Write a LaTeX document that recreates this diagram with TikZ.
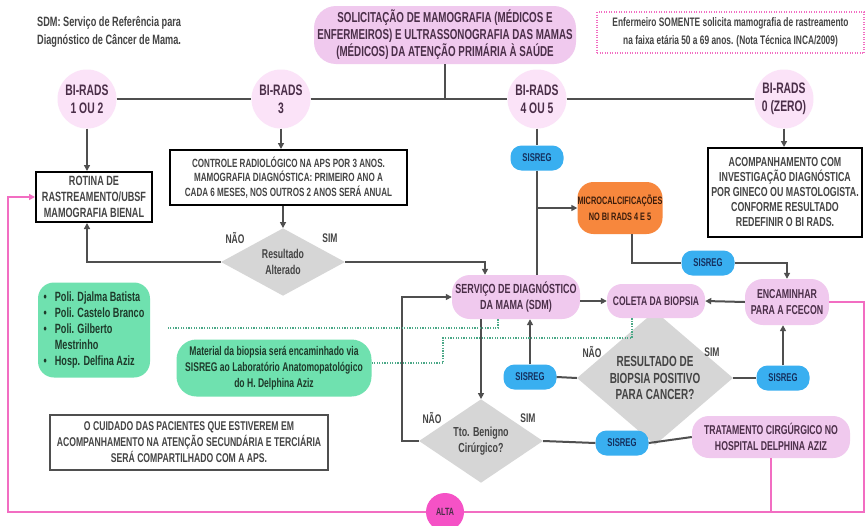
\documentclass[tikz,border=0pt]{standalone}
\usepackage{fontspec}
\setmainfont{Liberation Sans}[FakeStretch=0.68, UprightFont={* Bold}, BoldFont={* Bold}]
\usetikzlibrary{arrows.meta,shapes.geometric}
\definecolor{pinkf}{HTML}{F0C9EE}
\definecolor{circf}{HTML}{FBE3F8}
\definecolor{ptext}{HTML}{4A2E48}
\definecolor{bluef}{HTML}{39AFF0}
\definecolor{btext}{HTML}{15305E}
\definecolor{orangef}{HTML}{F7873D}
\definecolor{otext}{HTML}{3B1D0C}
\definecolor{greenf}{HTML}{6FE1AF}
\definecolor{gtext}{HTML}{1E3A2A}
\definecolor{grayf}{HTML}{D6D6D6}
\definecolor{graytext}{HTML}{444444}
\definecolor{linec}{HTML}{4F4F4F}
\definecolor{pinkline}{HTML}{F26DC2}
\definecolor{altaf}{HTML}{F552C6}
\definecolor{dotc}{HTML}{4BA887}
\newcommand\myfs[2]{\fontsize{#1}{#2}\selectfont}
\tikzset{
  txt/.style={align=center, inner sep=0pt, font=\myfs{11}{15.5}},
  pill/.style={txt, fill=pinkf, text=ptext},
  circ/.style={circle, fill=circf, minimum size=59pt, txt, text=ptext, font=\myfs{15.2}{18}},
  sis/.style={txt, fill=bluef, text=btext, rounded corners=11pt, minimum width=53pt, minimum height=25pt, font=\myfs{11.3}{12}},
  boxx/.style={txt, draw=black, line width=2pt, fill=white, text=graytext},
  dia/.style={diamond, fill=grayf, txt, text=graytext},
  con/.style={draw=linec, line width=2pt, -{Triangle[length=6pt,width=6pt]}},
  lin/.style={draw=linec, line width=2pt},
  pk/.style={draw=pinkline, line width=2.5pt},
  dots/.style={draw=dotc, line width=1.6pt, dash pattern=on 1.3pt off 1.3pt},
  lab/.style={font=\myfs{12.5}{13}, text=graytext, inner sep=0pt}
}
\begin{document}
\begin{tikzpicture}[x=1pt,y=-1pt]
\useasboundingbox[fill=white] (0,0) rectangle (867,525);

% notes
\node[anchor=west, align=left, font=\myfs{13.5}{18}, text=graytext, inner sep=0pt] (sdmn) at (37,32) {SDM: Serviço de Referência para\\Diagnóstico de Câncer de Mama.};
\node[txt, draw=pinkline, line width=1.2pt, dash pattern=on 1pt off 1.5pt, minimum width=267pt, minimum height=41pt, font=\myfs{12.3}{18}, text=graytext] (enf) at (730.5,32.5) {Enfermeiro SOMENTE solicita mamografia de rastreamento\\na faixa etária 50 a 69 anos. (Nota Técnica INCA/2009)};

% top
\node[pill, rounded corners=22pt, minimum width=262pt, minimum height=58pt, font=\myfs{14.4}{17}] (top) at (445,35) {SOLICITAÇÃO DE MAMOGRAFIA (MÉDICOS E\\ENFERMEIROS) E ULTRASSONOGRAFIA DAS MAMAS\\(MÉDICOS) DA ATENÇÃO PRIMÁRIA À SAÚDE};

% BI-RADS circles
\node[circ] (b12) at (87,99) {BI-RADS\\1 OU 2};
\node[circ] (b3) at (281,99) {BI-RADS\\3};
\node[circ] (b45) at (537,99) {BI-RADS\\4 OU 5};
\node[circ] (b0) at (784,99) {BI-RADS\\0 (ZERO)};

% boxes
\node[boxx, minimum width=116pt, minimum height=50pt, font=\myfs{13.4}{16}] (rot) at (94,197) {ROTINA DE\\RASTREAMENTO/UBSF\\MAMOGRAFIA BIENAL};
\node[boxx, minimum width=237pt, minimum height=55pt, font=\myfs{11.9}{14.5}] (ctl) at (288.5,177.5) {CONTROLE RADIOLÓGICO NA APS POR 3 ANOS.\\MAMOGRAFIA DIAGNÓSTICA: PRIMEIRO ANO A\\CADA 6 MESES, NOS OUTROS 2 ANOS SERÁ ANUAL};
\node[boxx, minimum width=154pt, minimum height=89pt, font=\myfs{13}{15}] (acomp) at (785,192.5) {ACOMPANHAMENTO COM\\INVESTIGAÇÃO DIAGNÓSTICA\\POR GINECO OU MASTOLOGISTA.\\CONFORME RESULTADO\\REDEFINIR O BI RADS.};

% diamonds
\node[dia, minimum width=124pt, minimum height=66pt, font=\myfs{12.8}{16}] (res) at (283,262) {Resultado\\Alterado};
\node[dia, minimum width=156pt, minimum height=90pt, font=\myfs{14.6}{16.5}] (res2) at (655,378) {RESULTADO DE\\BIOPSIA POSITIVO\\PARA CANCER?};
\node[dia, minimum width=124pt, minimum height=66pt, font=\myfs{13.1}{16}] (tto) at (481,441) {Tto. Benigno\\Cirúrgico?};

% pills
\node[sis] (s1) at (537,158) {SISREG};
\node[txt, fill=orangef, text=otext, rounded corners=16pt, minimum width=85pt, minimum height=52pt, font=\myfs{10.8}{16}] (mic) at (620,208) {MICROCALCIFICAÇÕES\\NO BI RADS 4 E 5};
\node[sis] (s2) at (708,263) {SISREG};
\node[pill, rounded corners=18pt, minimum width=84pt, minimum height=46pt, font=\myfs{12.9}{16}] (enc) at (787,302) {ENCAMINHAR\\PARA A FCECON};
\node[pill, rounded corners=15pt, minimum width=98pt, minimum height=34pt, font=\myfs{12.5}{16}] (col) at (656,301) {COLETA DA BIOPSIA};
\node[pill, rounded corners=18pt, minimum width=128pt, minimum height=44pt, font=\myfs{13.2}{16}] (sdm) at (516,297) {SERVIÇO DE DIAGNÓSTICO\\DA MAMA (SDM)};
\node[sis] (s3) at (530,377) {SISREG};
\node[sis] (s4) at (783,378) {SISREG};
\node[sis] (s5) at (622,443) {SISREG};
\node[pill, rounded corners=17pt, minimum width=158pt, minimum height=42pt, font=\myfs{12.8}{16}] (trat) at (771,437) {TRATAMENTO CIRGÚRGICO NO\\HOSPITAL DELPHINA AZIZ};
\node[circle, fill=altaf, text=ptext, minimum size=38pt, inner sep=0pt, font=\myfs{10.5}{12}] (alta) at (445,512) {ALTA};

% green boxes
\node[txt, fill=greenf, text=gtext, rounded corners=16pt, minimum width=112pt, minimum height=95pt, font=\myfs{13.4}{16}] (glist) at (94,330) {\begin{tabular}{@{}l@{\hspace{8pt}}l@{}}\textbullet & Poli. Djalma Batista\\ \textbullet & Poli. Castelo Branco\\ \textbullet & Poli. Gilberto\\ & Mestrinho\\ \textbullet & Hosp. Delfina Aziz\end{tabular}};
\node[txt, fill=greenf, text=gtext, rounded corners=20pt, minimum width=195pt, minimum height=57pt, font=\myfs{12.6}{16}] (mat) at (274,368) {Material da biopsia será encaminhado via\\SISREG ao Laboratório Anatomopatológico\\do H. Delphina Aziz};

\node[txt, draw=linec, line width=1.3pt, minimum width=278pt, minimum height=55pt, text=graytext, font=\myfs{12.7}{16}] (cui) at (189,442.5) {O CUIDADO DAS PACIENTES QUE ESTIVEREM EM\\ACOMPANHAMENTO NA ATENÇÃO SECUNDÁRIA E TERCIÁRIA\\SERÁ COMPARTILHADO COM A APS.};

% labels
\node[lab] (l1) at (235,238) {NÃO};
\node[lab] (l2) at (330,238) {SIM};
\node[lab] (l3) at (592,352) {NÃO};
\node[lab] (l4) at (712,352) {SIM};
\node[lab] (l5) at (432,418) {NÃO};
\node[lab] (l6) at (528,418) {SIM};

% coordinates
\coordinate (pbr) at (864,512);
\coordinate (pbl) at (8,512);
\coordinate (d1) at (168,328);

% top connectors
\draw[lin] (top.south) -- (top.south |- b12);
\draw[lin] (b12.east) -- (b3.west);
\draw[lin] (b3.east) -- (b45.west);
\draw[lin] (b45.east) -- (b0.west);
\draw[con] (b12.south) -- (b12.south |- rot.north);
\draw[con] (b3.south) -- (b3.south |- ctl.north);
\draw[con] (b0.south) -- (b0.south |- acomp.north);
\draw[con] (res.north |- ctl.south) -- (res.north);
\draw[con] (res.west) -| (b12.south |- rot.south);
\draw[con] (res.east) -| ([xshift=-31pt]sdm.north);
\draw[lin] (b45.south) -- (s1.north);
\draw[lin] (s1.south) -- (s1.south |- sdm.north);
\draw[con] (s1.south |- mic.west) -- (mic.west);
\draw[lin] ([xshift=12pt]mic.south) |- (s2.west);
\draw[con] (s2.east) -| (enc.north);
\draw[con] (enc.west) -- (col.east);
\draw[con] (sdm.east |- col.west) -- (col.west);
\draw[lin] (res2.east) -- (s4.west);
\draw[con] (s4.north) -- (s4.north |- enc.south);
\draw[lin] (res2.west) -- (s3.east);
\draw[con] (s3.north) -- (s3.north |- sdm.south);
\draw[con] (tto.north |- sdm.south) -- (tto.north);
\draw[con] (tto.west) -- ++(-17,0) |- (sdm.west);
\draw[lin] (tto.east) -- (s5.west);
\draw[lin] (s5.east) -- (trat.west);

% dotted
\draw[dots] ([xshift=-18pt]sdm.south) |- (d1);
\draw[dots] ([xshift=-24pt]col.south) |- (443,338) |- ([yshift=5pt]mat.east);

% pink loop
\draw[pk] (enc.east) -| (pbr) -- (alta.east);
\draw[pk, -{Triangle[length=6pt,width=6pt]}] (alta.west) -- (pbl) |- (rot.west);
\draw[pk] (trat.south) -- (trat.south |- alta);
\end{tikzpicture}
\end{document}
